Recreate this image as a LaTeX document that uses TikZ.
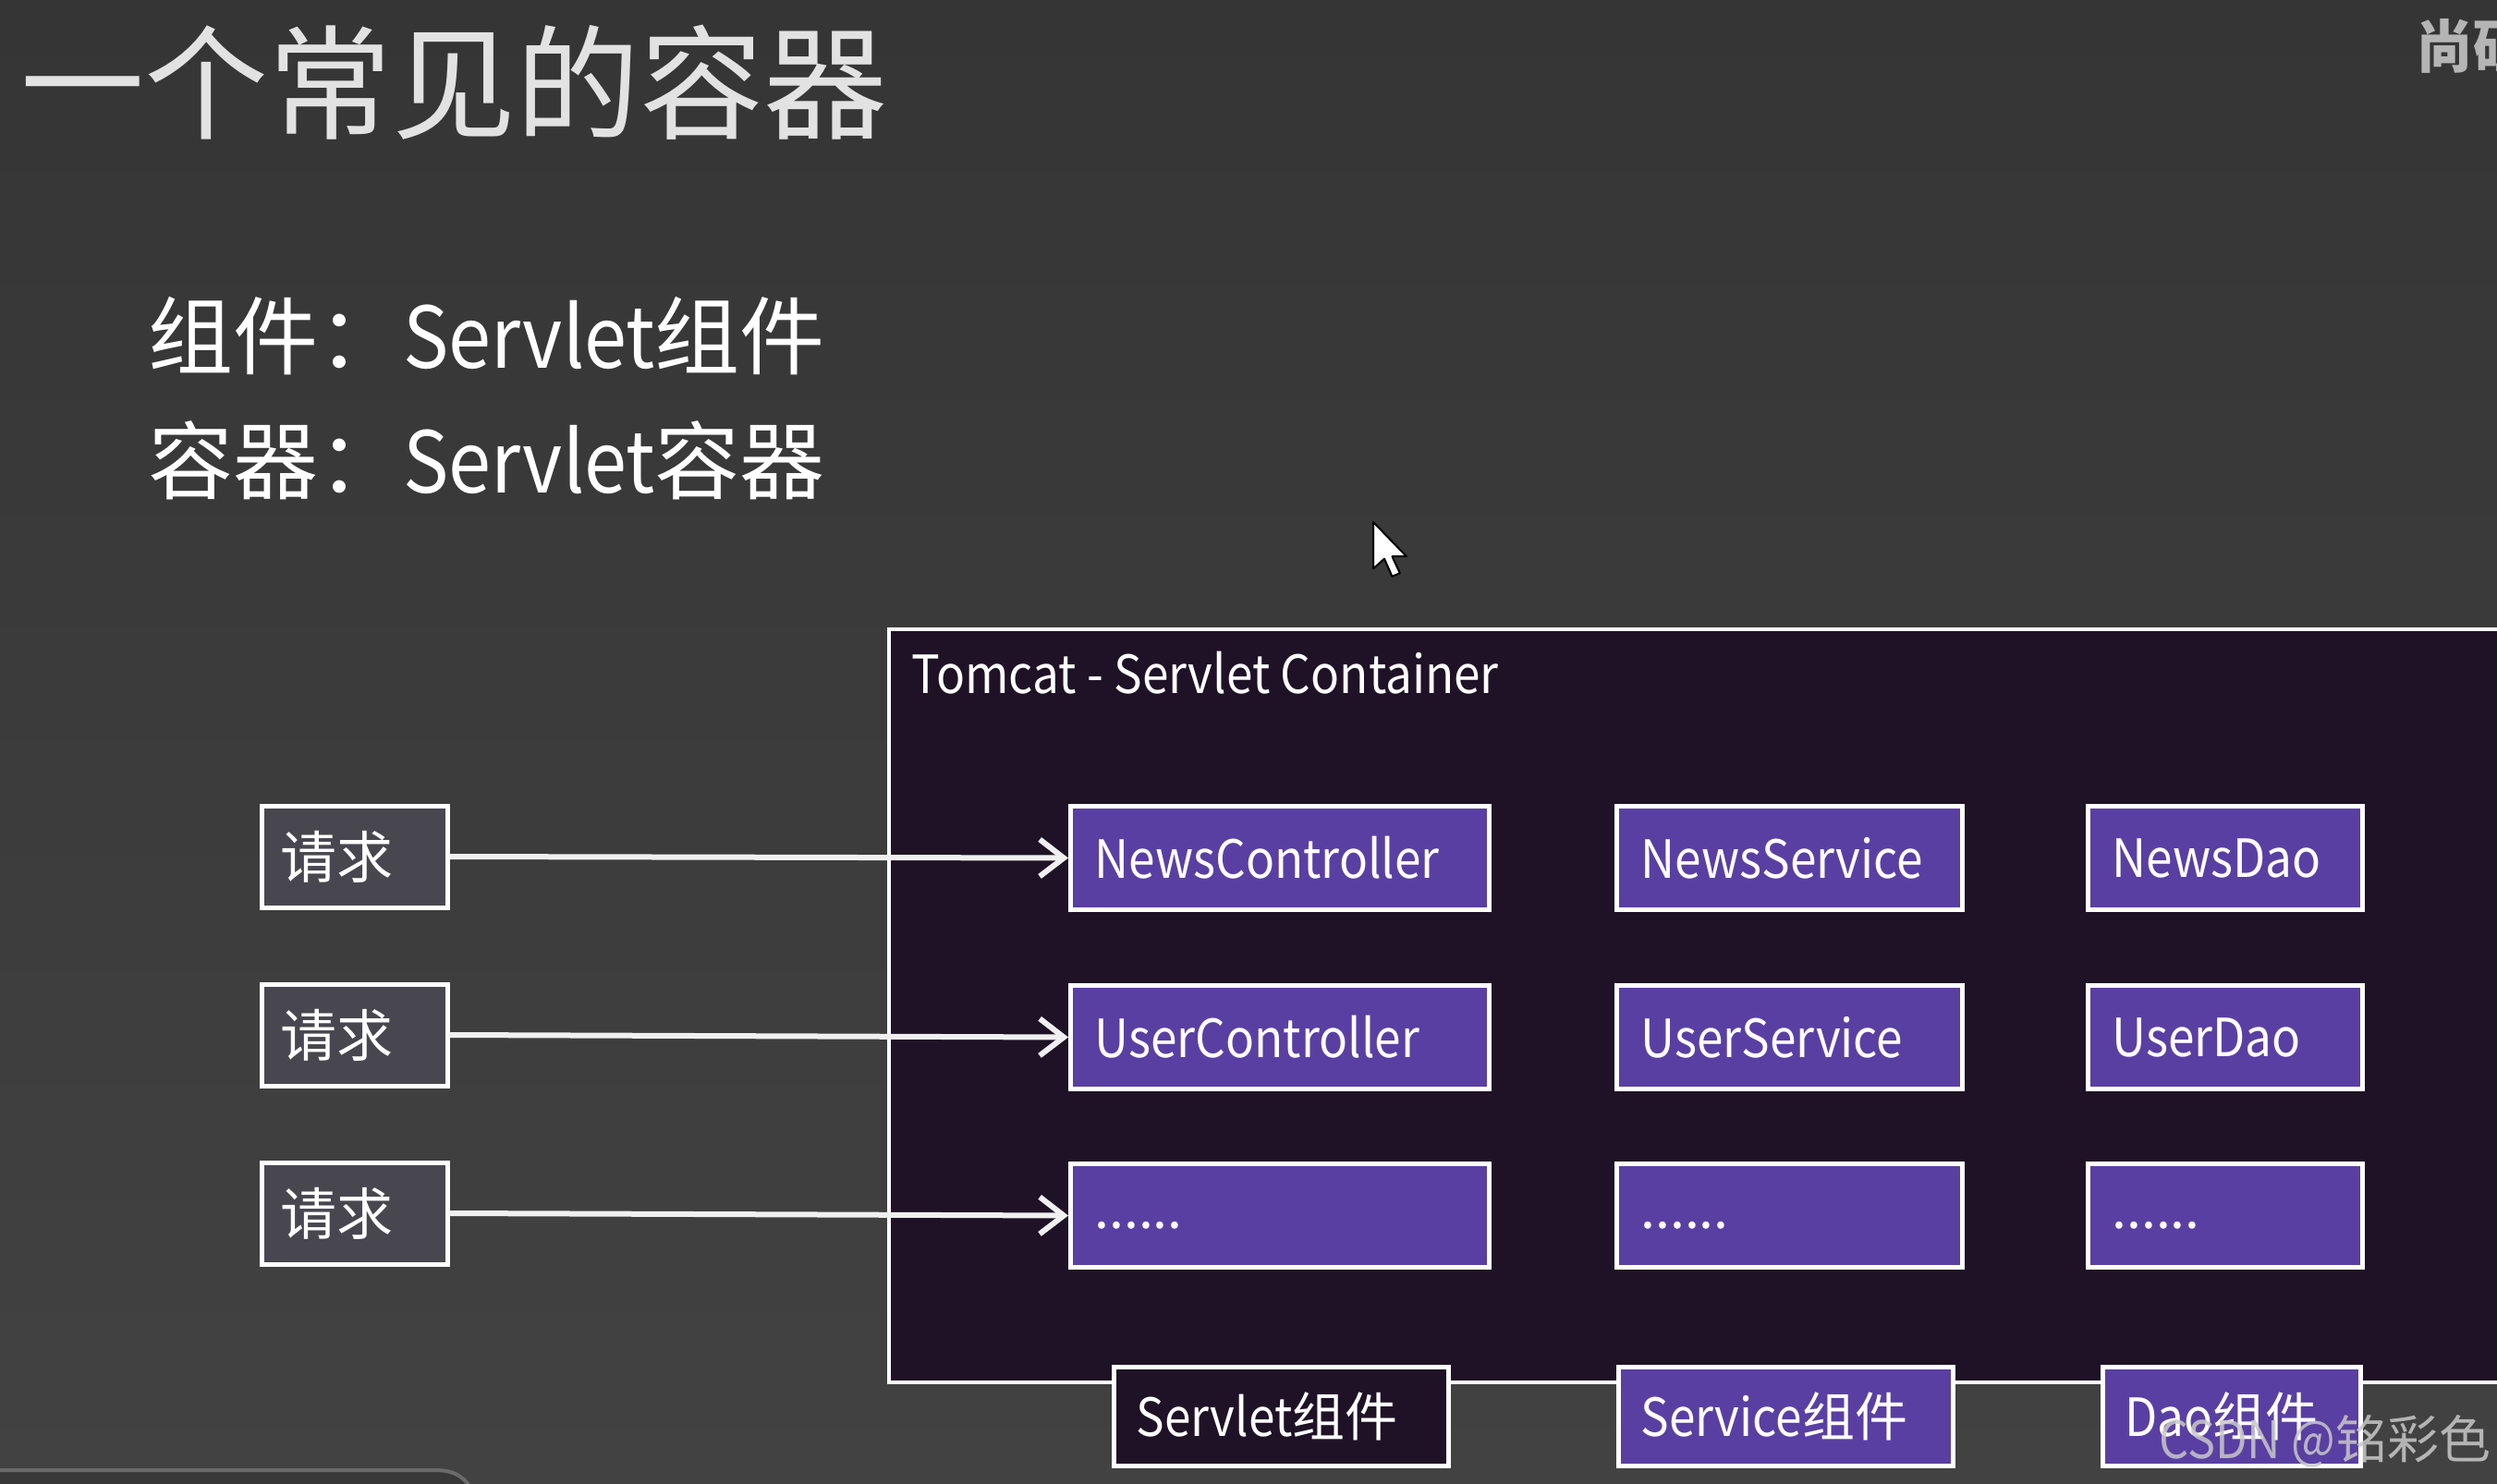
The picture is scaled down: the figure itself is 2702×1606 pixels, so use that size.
\documentclass[tikz,border=0pt]{standalone}
\usepackage{fontspec}
\setmainfont{Noto Sans CJK SC}
\newfontfamily\lat[FakeStretch=0.9]{Noto Sans CJK SC}
\usetikzlibrary{arrows.meta}
\definecolor{bgtop}{HTML}{353535}
\definecolor{bgbot}{HTML}{424242}
\definecolor{contfill}{HTML}{1F1226}
\definecolor{purp}{HTML}{5A3FA3}
\definecolor{reqfill}{HTML}{48464E}
\definecolor{titlec}{HTML}{E2E2E2}
\definecolor{uiline}{HTML}{6A6A6A}
\definecolor{uifill}{HTML}{383838}
\definecolor{wmc}{HTML}{C8C8C8}
\definecolor{logoc}{HTML}{B5B5B5}
\tikzset{
  boxtext/.style={text=white, font=\fontsize{57}{60}\selectfont},
  reqbox/.style={draw=white, line width=5, fill=reqfill, minimum width=201, minimum height=110,
    inner xsep=20, text width=161, align=left, text=white, font=\fontsize{61}{62}\selectfont},
  pbox/.style={draw=white, line width=5, fill=purp, minimum height=112, inner xsep=26,
    align=left, anchor=north west, boxtext},
  lbox/.style={draw=white, line width=5, minimum height=107, inner xsep=24,
    align=left, anchor=north west, boxtext},
  arr/.style={draw=white!94!black, line width=6, -{Straight Barb[length=26, width=40, line width=6]}},
  contbox/.style={draw=white, line width=4, fill=contfill, anchor=north west}
}
\newcommand{\dotsrow}{\vphantom{Ny}......}
\begin{document}
\begin{tikzpicture}[x=1pt,y=-1pt]
\useasboundingbox (0,0) rectangle (2702,1606);
\clip (0,0) rectangle (2702,1606);
\shade[top color=bgtop, bottom color=bgbot] (0,0) rectangle (2702,1606);
% bottom-left UI strip
\draw[uiline, line width=4, fill=uifill] (-10,1591) -- (470,1591) .. controls (492,1591) and (503,1598) .. (512,1615) -- (-10,1615) -- cycle;
% title and subtitles
\node[anchor=west, inner sep=0, text=titlec, font=\fontsize{134}{134}\selectfont] (title) at (22,89) {一个常见的容器};
\node[anchor=west, inner sep=0, text=white, font=\fontsize{92}{92}\selectfont] (sub1) at (160,364) {组件：{\lat Servlet}组件};
\node[anchor=west, inner sep=0, text=white, font=\fontsize{92}{92}\selectfont] (sub2) at (160,498) {容器：{\lat Servlet}容器};
\node[anchor=west, inner sep=0, text=logoc, font=\fontsize{62}{62}\selectfont\bfseries] (logo) at (2614,50) {尚硅};
% container
\node[contbox, minimum width=1800, minimum height=815] (tomcat) at (960,679) {};
\node[anchor=west, inner sep=0, boxtext] (tomcatlabel) at (986,728) {\lat Tomcat - Servlet Container};
% requests
\node[reqbox] (r1) at (383.5,927) {请求};
\node[reqbox] (r2) at (383.5,1120) {请求};
\node[reqbox] (r3) at (383.5,1313) {请求};
% components
\node[pbox, minimum width=453, text width=401] (nc) at (1156,870) {\lat NewsController};
\node[pbox, minimum width=453, text width=401] (uc) at (1156,1064) {\lat UserController};
\node[pbox, minimum width=453, text width=401] (dc) at (1156,1257) {\dotsrow};
\node[pbox, minimum width=374, text width=322] (ns) at (1747,870) {\lat NewsService};
\node[pbox, minimum width=374, text width=322] (us) at (1747,1064) {\lat UserService};
\node[pbox, minimum width=374, text width=322] (ds) at (1747,1257) {\dotsrow};
\node[pbox, minimum width=297, text width=245] (nd) at (2257,870) {\lat NewsDao};
\node[pbox, minimum width=297, text width=245] (ud) at (2257,1064) {\lat UserDao};
\node[pbox, minimum width=297, text width=245] (dd) at (2257,1257) {\dotsrow};
% arrows
\draw[arr] (r1.east) -- (nc.west);
\draw[arr] (r2.east) -- (uc.west);
\draw[arr] (r3.east) -- (dc.west);
% bottom labels
\node[lbox, fill=contfill, minimum width=362, text width=314] (lservlet) at (1203,1477) {{\lat Servlet}组件};
\node[lbox, fill=purp, minimum width=362, text width=314] (lservice) at (1749,1477) {{\lat Service}组件};
\node[lbox, fill=purp, minimum width=279, text width=231] (ldao) at (2273,1477) {{\lat Dao}组件};
% watermark
\node[anchor=west, inner sep=0, text=wmc, opacity=0.85, font=\fontsize{56}{56}\selectfont] (wm) at (2336,1560) {{\lat CSDN @}铭彩色};
% mouse cursor
\begin{scope}[shift={(1486,565)}, scale=1.2]
\draw[fill=white, draw=black, line width=2, line join=round] (0,0) -- (0,42) -- (10,33) -- (17,49) -- (24,46) -- (17,31) -- (30,31) -- cycle;
\end{scope}
\end{tikzpicture}
\end{document}
